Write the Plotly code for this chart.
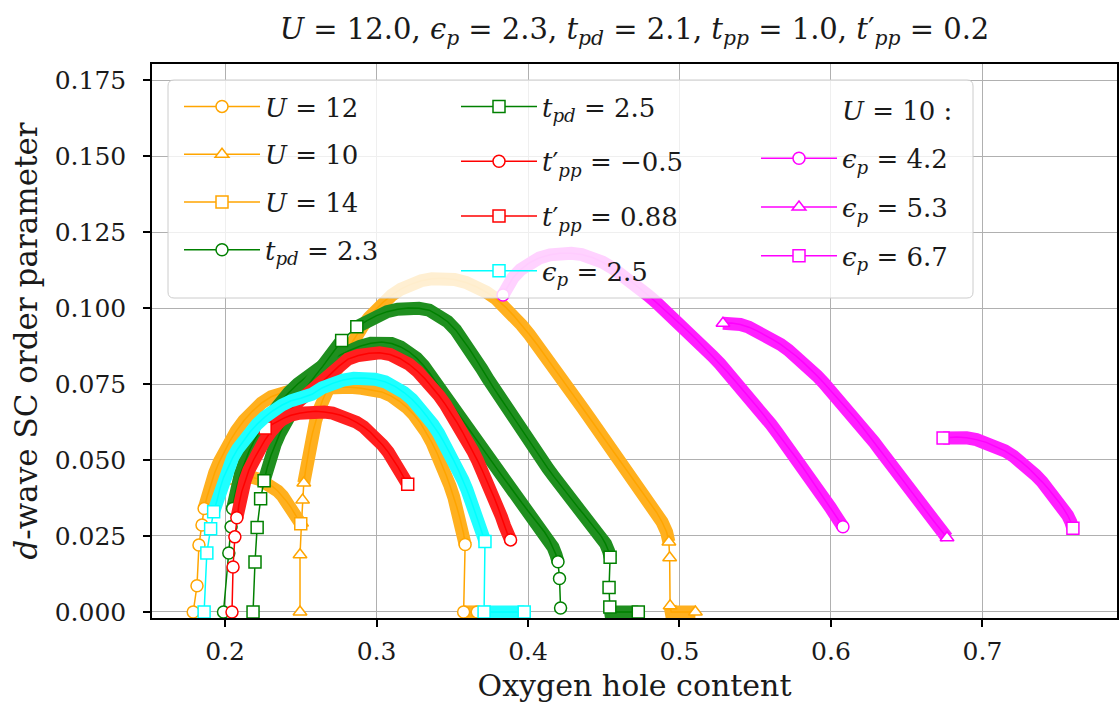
import plotly.graph_objects as go

# ---------------- data ----------------
# U = 12 (orange circles)
u12_x = [0.1790, 0.1815, 0.1828, 0.1848, 0.1862, 0.1882, 0.1905, 0.1932, 0.1962, 0.1995,
         0.2032, 0.2075, 0.2125, 0.2180, 0.2240, 0.2305, 0.2375, 0.2450, 0.2525, 0.2600,
         0.2675, 0.2750, 0.2825, 0.2900, 0.2970, 0.3035, 0.3095, 0.3150, 0.3200, 0.3245,
         0.3290, 0.3330, 0.3365, 0.3400, 0.3430, 0.3460, 0.3485, 0.3510, 0.3530, 0.3550,
         0.3565, 0.3575, 0.3585, 0.3575, 0.3605, 0.3635, 0.3665]
u12_y = [0.0000, 0.0086, 0.0220, 0.0286, 0.0340, 0.0380, 0.0420, 0.0458, 0.0494, 0.0528,
         0.0562, 0.0596, 0.0630, 0.0660, 0.0687, 0.0708, 0.0721, 0.0730, 0.0734, 0.0737,
         0.0739, 0.0740, 0.0739, 0.0736, 0.0731, 0.0724, 0.0711, 0.0694, 0.0673, 0.0650,
         0.0622, 0.0590, 0.0558, 0.0522, 0.0487, 0.0450, 0.0415, 0.0378, 0.0345, 0.0310,
         0.0280, 0.0258, 0.0222, 0.0000, 0.0000, 0.0000, 0.0000]

# U = 10 (orange triangles)
u10_x = [0.2495, 0.2495, 0.2505, 0.2512, 0.2520, 0.2532, 0.2545, 0.2560, 0.2578, 0.2598,
         0.2620, 0.2645, 0.2672, 0.2700, 0.2730, 0.2762, 0.2795, 0.2830, 0.2868, 0.2908,
         0.2950, 0.2995, 0.3045, 0.3100, 0.3160, 0.3225, 0.3295, 0.3365, 0.3440, 0.3515,
         0.3590, 0.3660, 0.3725, 0.3790, 0.3850, 0.3905, 0.3958, 0.4010, 0.4060, 0.4110,
         0.4160, 0.4210, 0.4260, 0.4310, 0.4360, 0.4410, 0.4460, 0.4510, 0.4560, 0.4610,
         0.4660, 0.4710, 0.4760, 0.4805, 0.4848, 0.4885, 0.4915, 0.4930, 0.4935, 0.4938,
         0.4945, 0.4985, 0.5025, 0.5065, 0.5105]
u10_y = [0.0000, 0.0188, 0.0293, 0.0368, 0.0424, 0.0467, 0.0510, 0.0550, 0.0590, 0.0628,
         0.0664, 0.0698, 0.0730, 0.0760, 0.0790, 0.0820, 0.0850, 0.0880, 0.0910, 0.0940,
         0.0968, 0.0995, 0.1020, 0.1042, 0.1062, 0.1078, 0.1090, 0.1096, 0.1098, 0.1094,
         0.1084, 0.1070, 0.1052, 0.1030, 0.1004, 0.0975, 0.0944, 0.0912, 0.0880, 0.0846,
         0.0811, 0.0776, 0.0741, 0.0706, 0.0671, 0.0636, 0.0601, 0.0566, 0.0531, 0.0496,
         0.0461, 0.0426, 0.0392, 0.0360, 0.0328, 0.0296, 0.0263, 0.0230, 0.0178, 0.0020,
         0.0000, 0.0000, 0.0000, 0.0000, 0.0000]

# U = 14 (orange squares)
u14_x = [0.2066, 0.2130, 0.2180, 0.2228, 0.2272, 0.2312, 0.2348, 0.2380, 0.2408, 0.2435,
         0.2460, 0.2482, 0.2500]
u14_y = [0.0441, 0.0445, 0.0443, 0.0436, 0.0426, 0.0413, 0.0398, 0.0381, 0.0363, 0.0344,
         0.0325, 0.0307, 0.0290]

# t_pd = 2.3 (green circles)
tpd23_x = [0.1990, 0.2025, 0.2040, 0.2050, 0.2063, 0.2080, 0.2102, 0.2128, 0.2158, 0.2192,
           0.2230, 0.2272, 0.2318, 0.2368, 0.2422, 0.2480, 0.2542, 0.2608, 0.2676, 0.2746,
           0.2818, 0.2890, 0.2962, 0.3034, 0.3100, 0.3160, 0.3215, 0.3265, 0.3312, 0.3356,
           0.3398, 0.3438, 0.3478, 0.3518, 0.3558, 0.3598, 0.3638, 0.3678, 0.3718, 0.3758,
           0.3798, 0.3838, 0.3878, 0.3918, 0.3958, 0.3998, 0.4038, 0.4076, 0.4110, 0.4140,
           0.4165, 0.4185, 0.4198, 0.4208, 0.4215]
tpd23_y = [0.0000, 0.0194, 0.0280, 0.0340, 0.0380, 0.0418, 0.0455, 0.0492, 0.0528, 0.0563,
           0.0597, 0.0630, 0.0662, 0.0693, 0.0722, 0.0750, 0.0776, 0.0800, 0.0822, 0.0842,
           0.0860, 0.0874, 0.0884, 0.0888, 0.0883, 0.0872, 0.0856, 0.0835, 0.0810, 0.0782,
           0.0752, 0.0722, 0.0693, 0.0665, 0.0637, 0.0609, 0.0581, 0.0553, 0.0525, 0.0497,
           0.0469, 0.0441, 0.0414, 0.0387, 0.0360, 0.0334, 0.0309, 0.0285, 0.0262, 0.0238,
           0.0213, 0.0188, 0.0165, 0.0110, 0.0013]

# t_pd = 2.5 (green squares)
tpd25_x = [0.2185, 0.2198, 0.2212, 0.2235, 0.2258, 0.2280, 0.2303, 0.2330, 0.2360, 0.2393,
           0.2430, 0.2470, 0.2512, 0.2556, 0.2600, 0.2645, 0.2690, 0.2730, 0.2770, 0.2870,
           0.2935, 0.3000, 0.3070, 0.3140, 0.3210, 0.3280, 0.3348, 0.3412, 0.3470, 0.3522,
           0.3570, 0.3614, 0.3656, 0.3696, 0.3735, 0.3773, 0.3811, 0.3850, 0.3890, 0.3930,
           0.3970, 0.4010, 0.4050, 0.4090, 0.4130, 0.4170, 0.4210, 0.4250, 0.4290, 0.4330,
           0.4370, 0.4410, 0.4450, 0.4485, 0.4512, 0.4532, 0.4542, 0.4535, 0.4540, 0.4545,
           0.4585, 0.4625, 0.4665, 0.4705, 0.4728]
tpd25_y = [0.0000, 0.0164, 0.0278, 0.0372, 0.0432, 0.0478, 0.0515, 0.0550, 0.0585, 0.0620,
           0.0655, 0.0690, 0.0722, 0.0752, 0.0780, 0.0808, 0.0840, 0.0868, 0.0893, 0.0938,
           0.0958, 0.0975, 0.0988, 0.0996, 0.1000, 0.0999, 0.0993, 0.0975, 0.0955, 0.0928,
           0.0897, 0.0865, 0.0832, 0.0799, 0.0767, 0.0737, 0.0709, 0.0680, 0.0649, 0.0618,
           0.0588, 0.0558, 0.0529, 0.0501, 0.0473, 0.0446, 0.0420, 0.0394, 0.0369, 0.0344,
           0.0320, 0.0296, 0.0272, 0.0248, 0.0224, 0.0200, 0.0180, 0.0080, 0.0016, 0.0000,
           0.0000, 0.0000, 0.0000, 0.0000, 0.0000]

# t'_pp = -0.5 (red circles)
tpm05_x = [0.2046, 0.2053, 0.2065, 0.2078, 0.2092, 0.2110, 0.2132, 0.2158, 0.2188, 0.2222,
           0.2260, 0.2302, 0.2348, 0.2398, 0.2452, 0.2510, 0.2570, 0.2632, 0.2690, 0.2750,
           0.2812, 0.2880, 0.2950, 0.3020, 0.3090, 0.3155, 0.3215, 0.3270, 0.3320, 0.3368,
           0.3412, 0.3454, 0.3494, 0.3532, 0.3568, 0.3602, 0.3635, 0.3666, 0.3696, 0.3725,
           0.3752, 0.3778, 0.3802, 0.3825, 0.3846, 0.3866, 0.3885]
tpm05_y = [0.0000, 0.0148, 0.0247, 0.0310, 0.0355, 0.0395, 0.0432, 0.0467, 0.0500, 0.0532,
           0.0563, 0.0593, 0.0622, 0.0650, 0.0677, 0.0703, 0.0728, 0.0752, 0.0778, 0.0808,
           0.0832, 0.0844, 0.0851, 0.0853, 0.0847, 0.0834, 0.0815, 0.0792, 0.0767, 0.0740,
           0.0712, 0.0683, 0.0653, 0.0623, 0.0592, 0.0561, 0.0530, 0.0499, 0.0468, 0.0437,
           0.0406, 0.0375, 0.0344, 0.0313, 0.0283, 0.0255, 0.0237]

# t'_pp = 0.88 (red squares)
tp088_x = [0.2265, 0.2300, 0.2340, 0.2385, 0.2435, 0.2490, 0.2545, 0.2600, 0.2655, 0.2710,
           0.2765, 0.2818, 0.2868, 0.2915, 0.2958, 0.3000, 0.3040, 0.3077, 0.3110, 0.3140,
           0.3166, 0.3188, 0.3206]
tp088_y = [0.0605, 0.0615, 0.0626, 0.0637, 0.0647, 0.0654, 0.0658, 0.0660, 0.0658, 0.0654,
           0.0647, 0.0637, 0.0624, 0.0609, 0.0592, 0.0571, 0.0549, 0.0526, 0.0502, 0.0478,
           0.0455, 0.0435, 0.0420]

# eps_p = 2.5 (cyan squares)
ep25_x = [0.1862, 0.1880, 0.1905, 0.1925, 0.1948, 0.1966, 0.1990, 0.2018, 0.2050, 0.2085,
          0.2124, 0.2166, 0.2212, 0.2262, 0.2316, 0.2374, 0.2436, 0.2500, 0.2574, 0.2640,
          0.2710, 0.2780, 0.2850, 0.2920, 0.2990, 0.3058, 0.3122, 0.3182, 0.3236, 0.3285,
          0.3330, 0.3372, 0.3410, 0.3446, 0.3480, 0.3512, 0.3542, 0.3570, 0.3596, 0.3620,
          0.3643, 0.3664, 0.3684, 0.3702, 0.3716, 0.3710, 0.3750, 0.3790, 0.3830, 0.3870,
          0.3910, 0.3950, 0.3975]
ep25_y = [0.0000, 0.0194, 0.0274, 0.0330, 0.0368, 0.0405, 0.0442, 0.0475, 0.0507, 0.0537,
          0.0566, 0.0593, 0.0618, 0.0641, 0.0662, 0.0680, 0.0695, 0.0703, 0.0716, 0.0737,
          0.0752, 0.0763, 0.0769, 0.0770, 0.0766, 0.0757, 0.0742, 0.0722, 0.0699, 0.0673,
          0.0645, 0.0617, 0.0588, 0.0558, 0.0527, 0.0496, 0.0465, 0.0434, 0.0403, 0.0372,
          0.0341, 0.0310, 0.0280, 0.0252, 0.0232, 0.0000, 0.0000, 0.0000, 0.0000, 0.0000,
          0.0000, 0.0000, 0.0000]

# U = 10, eps_p = 4.2 (magenta circles)
ep42_x = [0.3835, 0.3860, 0.3900, 0.3950, 0.4010, 0.4075, 0.4145, 0.4215, 0.4285, 0.4355,
          0.4425, 0.4492, 0.4556, 0.4618, 0.4678, 0.4736, 0.4792, 0.4846, 0.4900, 0.4953,
          0.5005, 0.5058, 0.5111, 0.5164, 0.5216, 0.5268, 0.5319, 0.5369, 0.5418, 0.5466,
          0.5513, 0.5559, 0.5604, 0.5648, 0.5691, 0.5733, 0.5774, 0.5814, 0.5853, 0.5891,
          0.5928, 0.5963, 0.5997, 0.6029, 0.6057, 0.6079]
ep42_y = [0.1043, 0.1066, 0.1099, 0.1126, 0.1149, 0.1165, 0.1175, 0.1180, 0.1180, 0.1176,
          0.1166, 0.1151, 0.1132, 0.1111, 0.1089, 0.1066, 0.1042, 0.1019, 0.0995, 0.0972,
          0.0948, 0.0923, 0.0897, 0.0870, 0.0843, 0.0816, 0.0788, 0.0759, 0.0731, 0.0703,
          0.0674, 0.0646, 0.0617, 0.0588, 0.0560, 0.0532, 0.0504, 0.0476, 0.0448, 0.0421,
          0.0394, 0.0368, 0.0343, 0.0318, 0.0297, 0.0280]

# U = 10, eps_p = 5.3 (magenta triangles)
ep53_x = [0.5287, 0.5345, 0.5402, 0.5458, 0.5512, 0.5565, 0.5617, 0.5668, 0.5718, 0.5767,
          0.5815, 0.5862, 0.5908, 0.5953, 0.5997, 0.6040, 0.6082, 0.6123, 0.6163, 0.6203,
          0.6243, 0.6283, 0.6323, 0.6363, 0.6403, 0.6443, 0.6483, 0.6523, 0.6563, 0.6603,
          0.6643, 0.6683, 0.6723, 0.6766]
ep53_y = [0.0950, 0.0951, 0.0946, 0.0937, 0.0925, 0.0911, 0.0896, 0.0880, 0.0862, 0.0843,
          0.0822, 0.0800, 0.0777, 0.0753, 0.0729, 0.0705, 0.0681, 0.0660, 0.0636, 0.0611,
          0.0586, 0.0560, 0.0533, 0.0507, 0.0480, 0.0454, 0.0428, 0.0401, 0.0375, 0.0349,
          0.0322, 0.0296, 0.0270, 0.0244]

# U = 10, eps_p = 6.7 (magenta squares)
ep67_x = [0.6740, 0.6830, 0.6895, 0.6960, 0.7025, 0.7088, 0.7148, 0.7205, 0.7258, 0.7307,
          0.7352, 0.7394, 0.7433, 0.7470, 0.7504, 0.7535, 0.7562, 0.7583, 0.7597]
ep67_y = [0.0572, 0.0576, 0.0573, 0.0567, 0.0558, 0.0545, 0.0530, 0.0512, 0.0493, 0.0472,
          0.0450, 0.0428, 0.0406, 0.0384, 0.0362, 0.0340, 0.0318, 0.0296, 0.0275]

x_ticks = [0.2, 0.3, 0.4, 0.5, 0.6, 0.7]
x_tick_labels = ["0.2", "0.3", "0.4", "0.5", "0.6", "0.7"]
y_ticks = [0.0, 0.025, 0.05, 0.075, 0.1, 0.125, 0.15, 0.175]
y_tick_labels = ["0.000", "0.025", "0.050", "0.075", "0.100", "0.125", "0.150", "0.175"]

TITLE = ("<i>U</i> = 12.0, <i>ϵ</i><sub><i>p</i></sub> = 2.3, <i>t</i><sub><i>pd</i></sub> = 2.1, "
         "<i>t</i><sub><i>pp</i></sub> = 1.0, <i>t</i>′<sub><i>pp</i></sub> = 0.2")
X_TITLE = "Oxygen hole content"
Y_TITLE = "<i>d</i>-wave SC order parameter"
HEADER3 = "<i>U</i> = 10 :"

ORANGE, GREEN, RED, CYAN, MAGENTA = "#FFA500", "#008000", "#FF0000", "#00FFFF", "#FF00FF"

series = [
    ("<i>U</i> = 12", u12_x, u12_y, ORANGE, "circle", "legend"),
    ("<i>U</i> = 10", u10_x, u10_y, ORANGE, "triangle-up", "legend"),
    ("<i>U</i> = 14", u14_x, u14_y, ORANGE, "square", "legend"),
    ("<i>t</i><sub><i>pd</i></sub> = 2.3", tpd23_x, tpd23_y, GREEN, "circle", "legend"),
    ("<i>t</i><sub><i>pd</i></sub> = 2.5", tpd25_x, tpd25_y, GREEN, "square", "legend2"),
    ("<i>t</i>′<sub><i>pp</i></sub> = −0.5", tpm05_x, tpm05_y, RED, "circle", "legend2"),
    ("<i>t</i>′<sub><i>pp</i></sub> = 0.88", tp088_x, tp088_y, RED, "square", "legend2"),
    ("<i>ϵ</i><sub><i>p</i></sub> = 2.5", ep25_x, ep25_y, CYAN, "square", "legend2"),
    ("<i>ϵ</i><sub><i>p</i></sub> = 4.2", ep42_x, ep42_y, MAGENTA, "circle", "legend3"),
    ("<i>ϵ</i><sub><i>p</i></sub> = 5.3", ep53_x, ep53_y, MAGENTA, "triangle-up", "legend3"),
    ("<i>ϵ</i><sub><i>p</i></sub> = 6.7", ep67_x, ep67_y, MAGENTA, "square", "legend3"),
]

# ---------------- layout geometry ----------------
W, H = 1120, 711
ML, MR, MT, MB = 152, 3, 64, 93
X_RANGE = [0.1518, 0.7888]
Y_RANGE = [-0.002, 0.1803]
PW, PH = W - ML - MR, H - MT - MB
SX = PW / (X_RANGE[1] - X_RANGE[0])
SY = PH / (Y_RANGE[1] - Y_RANGE[0])
FONT = "DejaVu Serif"
TXT = "#1a1a1a"
MSIZE = 12
DENSE_PX = 15


def lighten(hexc, f=0.12):
    r, g, b = int(hexc[1:3], 16), int(hexc[3:5], 16), int(hexc[5:7], 16)
    r, g, b = [int(round(c + (255 - c) * f)) for c in (r, g, b)]
    return f"rgb({r},{g},{b})"


def split_runs(xs, ys):
    n = len(xs)
    dense = [((xs[i + 1] - xs[i]) * SX) ** 2 + ((ys[i + 1] - ys[i]) * SY) ** 2 < DENSE_PX ** 2
             for i in range(n - 1)]
    bx, by = [], []
    for i in range(n - 1):
        if dense[i]:
            if i == 0 or not dense[i - 1]:
                if bx:
                    bx.append(None); by.append(None)
                bx.append(xs[i]); by.append(ys[i])
            bx.append(xs[i + 1]); by.append(ys[i + 1])
    mx, my = [], []
    for i in range(n):
        left = dense[i - 1] if i > 0 else False
        right = dense[i] if i < n - 1 else False
        if not (left and right):
            mx.append(xs[i]); my.append(ys[i])
    return bx, by, mx, my


fig = go.Figure()

for k, (name, xs, ys, col, sym, leg) in enumerate(series):
    if leg == "legend3" and name.endswith("4.2"):
        fig.add_trace(go.Scatter(x=[None], y=[None], mode="lines", name=HEADER3,
                                 line=dict(color="rgba(0,0,0,0)", width=1),
                                 legend="legend3", legendgroup="hdr", showlegend=True,
                                 hoverinfo="skip"))
    bx, by, mx, my = split_runs(xs, ys)
    fig.add_trace(go.Scatter(x=bx, y=by, mode="lines", showlegend=False, hoverinfo="skip",
                             line=dict(color=lighten(col), width=MSIZE + 1)))
    fig.add_trace(go.Scatter(x=xs, y=ys, mode="lines", showlegend=False, hoverinfo="skip",
                             line=dict(color=col, width=1.5)))
    fig.add_trace(go.Scatter(x=mx, y=my, mode="markers", showlegend=False,
                             marker=dict(symbol=sym, size=MSIZE, color="white",
                                         line=dict(color=col, width=1.5))))
    fig.add_trace(go.Scatter(x=[None], y=[None], mode="lines+markers", name=name,
                             legend=leg, legendgroup=f"g{k}", showlegend=True,
                             line=dict(color=col, width=1.5),
                             marker=dict(symbol=sym, size=MSIZE, color="white",
                                         line=dict(color=col, width=1.5))))


def px2paper_x(p):
    return (p - ML) / PW


def px2paper_y(p):
    return (H - MB - p) / PH


# legend frame (white, semi-transparent, drawn over the data like matplotlib's)
bx0, bx1 = px2paper_x(168), px2paper_x(973)
by0, by1 = px2paper_y(298), px2paper_y(80)
rx, ry = 6 / PW, 6 / PH
path = (f"M{bx0 + rx},{by0} L{bx1 - rx},{by0} Q{bx1},{by0} {bx1},{by0 + ry} "
        f"L{bx1},{by1 - ry} Q{bx1},{by1} {bx1 - rx},{by1} L{bx0 + rx},{by1} "
        f"Q{bx0},{by1} {bx0},{by1 - ry} L{bx0},{by0 + ry} Q{bx0},{by0} {bx0 + rx},{by0} Z")
fig.add_shape(type="path", path=path, xref="paper", yref="paper", layer="above",
              fillcolor="rgba(255,255,255,0.8)", line=dict(color="#cccccc", width=1))

leg_base = dict(bgcolor="rgba(0,0,0,0)", borderwidth=0, orientation="v",
                font=dict(family=FONT, size=26, color=TXT), itemwidth=76,
                xanchor="left", yanchor="top", traceorder="grouped", itemclick=False)

axis_common = dict(showline=True, linecolor="black", linewidth=1.5, mirror=True,
                   showgrid=True, gridcolor="#b0b0b0", gridwidth=1.3, zeroline=False,
                   ticks="outside", ticklen=7, tickwidth=1.5, tickcolor="black",
                   automargin=False,
                   tickfont=dict(family=FONT, size=25, color=TXT))

fig.update_layout(
    width=W, height=H,
    margin=dict(l=ML, r=MR, t=MT, b=MB, autoexpand=False),
    paper_bgcolor="white", plot_bgcolor="white",
    title=dict(text=TITLE, x=(ML + PW / 2) / W, xanchor="center", y=1 - 29 / H,
               yanchor="middle", font=dict(family=FONT, size=29, color=TXT)),
    xaxis=dict(range=X_RANGE, tickvals=x_ticks, ticktext=x_tick_labels, ticklabelstandoff=3,
               title=dict(text=X_TITLE, font=dict(family=FONT, size=30, color=TXT), standoff=10),
               **axis_common),
    yaxis=dict(range=Y_RANGE, tickvals=y_ticks, ticktext=y_tick_labels, ticklabelstandoff=12,
               title=dict(text=Y_TITLE, font=dict(family=FONT, size=31, color=TXT), standoff=8),
               **axis_common),
    legend=dict(x=px2paper_x(179), y=px2paper_y(83), tracegroupgap=11, **leg_base),
    legend2=dict(x=px2paper_x(456), y=px2paper_y(83), tracegroupgap=18, **leg_base),
    legend3=dict(x=px2paper_x(756), y=px2paper_y(86), tracegroupgap=12, **leg_base),
    showlegend=True,
)

fig.write_html("out.html", config={"displayModeBar": False},
               post_script="document.body.style.margin='0';document.body.style.overflow='hidden';")
